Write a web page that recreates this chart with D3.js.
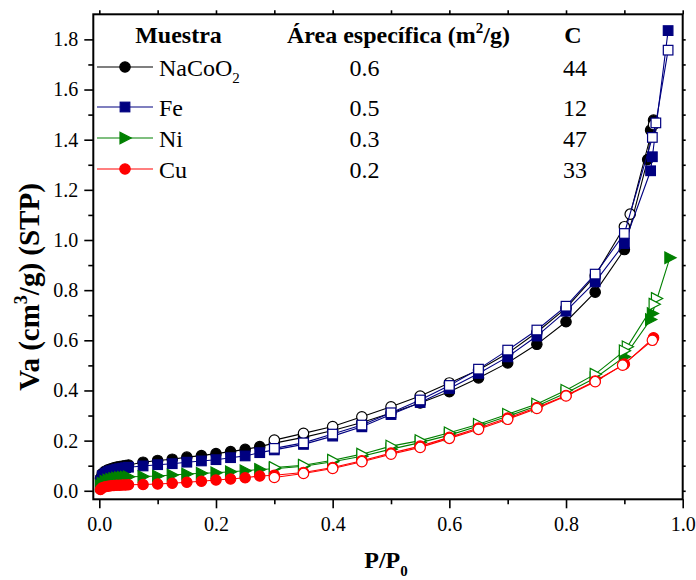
<!DOCTYPE html>
<html>
<head>
<meta charset="utf-8">
<script src="https://cdn.jsdelivr.net/npm/d3@7"></script>
<style>
  html, body { margin: 0; padding: 0; background: #fff; }
  svg { display: block; }
  text { font-family: "Liberation Serif", "Times New Roman", serif; fill: #000; }
</style>
</head>
<body>
<svg id="chart" width="696" height="580"></svg>
<script>
// ---------------- DATA ----------------
const sampleNames = ["NaCoO2", "Fe", "Ni", "Cu"];
const areaValues = ["0.6", "0.5", "0.3", "0.2"];
const cValues = ["44", "12", "47", "33"];
const xTickValues = [0, 0.2, 0.4, 0.6, 0.8, 1.0];
const yTickValues = [0, 0.2, 0.4, 0.6, 0.8, 1.0, 1.2, 1.4, 1.6, 1.8];

// adsorption pressures shared by the low/mid part of every branch
const adsPLow = [0.002, 0.005, 0.01, 0.015, 0.02, 0.025, 0.03, 0.035, 0.04, 0.045, 0.05,
                 0.075, 0.1, 0.125, 0.15, 0.175, 0.2, 0.225, 0.25, 0.275,
                 0.3, 0.35, 0.4, 0.45, 0.5, 0.55, 0.6, 0.65, 0.7, 0.75, 0.8, 0.85, 0.9];
const desPMid = [0.85, 0.8, 0.75, 0.7, 0.65, 0.6, 0.55, 0.5, 0.45, 0.4, 0.35, 0.3];

// NaCoO2
const nacoAdsP = adsPLow.concat([0.94, 0.945, 0.95]);
const nacoAdsV = [0.05, 0.068, 0.078, 0.084, 0.088, 0.092, 0.095, 0.097, 0.099, 0.101, 0.103,
                  0.114, 0.121, 0.126, 0.134, 0.14, 0.148, 0.156, 0.165, 0.176,
                  0.19, 0.213, 0.24, 0.272, 0.31, 0.35, 0.395, 0.45, 0.51, 0.584, 0.674, 0.792, 0.962,
                  1.321, 1.438, 1.478];
const nacoDesP = [0.95, 0.91, 0.9].concat(desPMid);
const nacoDesV = [1.46, 1.103, 1.053, 0.858, 0.728, 0.632, 0.548, 0.482, 0.43, 0.378, 0.335, 0.295, 0.256, 0.229, 0.202];

// Fe
const feAdsP = adsPLow.concat([0.945, 0.948, 0.975]);
const feAdsV = [0.04, 0.06, 0.07, 0.076, 0.08, 0.083, 0.086, 0.088, 0.09, 0.092, 0.094,
                0.099, 0.104, 0.108, 0.114, 0.119, 0.124, 0.132, 0.139, 0.152,
                0.163, 0.185, 0.218, 0.255, 0.304, 0.352, 0.408, 0.468, 0.534, 0.617, 0.716, 0.833, 0.986,
                1.276, 1.332, 1.835];
const feDesP = [0.975, 0.954, 0.948, 0.9].concat(desPMid);
const feDesV = [1.757, 1.467, 1.409, 1.026, 0.864, 0.736, 0.641, 0.561, 0.485, 0.42, 0.362, 0.311, 0.262, 0.226, 0.191, 0.169];

// Ni
const niAdsP = adsPLow.concat([0.945, 0.948, 0.978]);
const niAdsV = [0.02, 0.03, 0.038, 0.043, 0.046, 0.049, 0.051, 0.053, 0.054, 0.055, 0.056,
                0.057, 0.059, 0.063, 0.067, 0.07, 0.072, 0.076, 0.08, 0.085,
                0.088, 0.098, 0.116, 0.138, 0.166, 0.192, 0.222, 0.258, 0.297, 0.338, 0.39, 0.45, 0.534,
                0.683, 0.707, 0.929];
const niDesP = [0.955, 0.951, 0.905, 0.9].concat(desPMid);
const niDesV = [0.767, 0.744, 0.574, 0.558, 0.465, 0.401, 0.346, 0.305, 0.265, 0.231, 0.2, 0.178, 0.146, 0.122, 0.102, 0.093];

// Cu
const cuAdsP = adsPLow.concat([0.95]);
const cuAdsV = [0.005, 0.012, 0.016, 0.018, 0.02, 0.021, 0.022, 0.022, 0.023, 0.023, 0.024,
                0.025, 0.027, 0.03, 0.034, 0.038, 0.043, 0.047, 0.052, 0.059,
                0.062, 0.073, 0.093, 0.12, 0.15, 0.178, 0.213, 0.25, 0.29, 0.332, 0.38, 0.438, 0.505,
                0.61];
const cuDesP = [0.948, 0.897].concat(desPMid);
const cuDesV = [0.6, 0.501, 0.435, 0.378, 0.328, 0.285, 0.245, 0.209, 0.173, 0.146, 0.116, 0.089, 0.069, 0.053];

// ---------------- CHART ----------------
const series = [
  { name: "NaCoO2", color: "#000000", shape: "circle",   ads: [nacoAdsP, nacoAdsV], des: [nacoDesP, nacoDesV] },
  { name: "Fe",     color: "#000080", shape: "square",   ads: [feAdsP, feAdsV],     des: [feDesP, feDesV] },
  { name: "Ni",     color: "#008000", shape: "triangle", ads: [niAdsP, niAdsV],     des: [niDesP, niDesV] },
  { name: "Cu",     color: "#ff0000", shape: "circle",   ads: [cuAdsP, cuAdsV],     des: [cuDesP, cuDesV] }
];

const svg = d3.select("#chart");
const pL = 93.3, pR = 682.7, pT = 14.3, pB = 499.3;
const x = d3.scaleLinear().domain([-0.0103, 1.0]).range([pL, pR]);
const y = d3.scaleLinear().domain([-0.034, 1.9]).range([pB, pT]);

const tickFont = 20;

const xAxis = d3.axisBottom(x).tickValues(xTickValues).tickFormat(d3.format(".1f")).tickSizeInner(9).tickSizeOuter(0).tickPadding(9);
const xMinor = d3.axisBottom(x).tickValues(d3.range(0.1, 1.0, 0.2)).tickFormat("").tickSizeInner(5).tickSizeOuter(0);
const yAxis = d3.axisLeft(y).tickValues(yTickValues).tickFormat(d3.format(".1f")).tickSizeInner(9).tickSizeOuter(0).tickPadding(6);
const yMinor = d3.axisLeft(y).tickValues(d3.range(0.1, 1.9, 0.2)).tickFormat("").tickSizeInner(5).tickSizeOuter(0);
const xTop = d3.axisTop(x).tickValues(d3.range(0, 1.0001, 0.1)).tickFormat("").tickSizeInner(4).tickSizeOuter(0);
const yRight = d3.axisRight(y).tickValues(d3.range(0, 1.9, 0.1)).tickFormat("").tickSizeInner(3).tickSizeOuter(0);

function styleAxis(g) {
  g.select(".domain").remove();
  g.selectAll(".tick line").attr("stroke", "#000").attr("stroke-width", 1.6);
  g.selectAll(".tick text").attr("font-size", tickFont).attr("font-family", "'Liberation Serif', serif").attr("fill", "#000");
}
svg.append("g").attr("transform", `translate(0,${pB})`).call(xAxis).call(styleAxis);
svg.append("g").attr("transform", `translate(0,${pB})`).call(xMinor).call(styleAxis);
svg.append("g").attr("transform", `translate(${pL},0)`).call(yAxis).call(styleAxis);
svg.append("g").attr("transform", `translate(${pL},0)`).call(yMinor).call(styleAxis);
svg.append("g").attr("transform", `translate(0,${pT})`).call(xTop).call(styleAxis);
svg.append("g").attr("transform", `translate(${pR},0)`).call(yRight).call(styleAxis);

svg.append("rect").attr("x", pL).attr("y", pT).attr("width", pR - pL).attr("height", pB - pT)
  .attr("fill", "none").attr("stroke", "#000").attr("stroke-width", 2);

function marker(g, shape, cx, cy, color, filled) {
  const fill = filled ? color : "#fff";
  if (shape === "circle") {
    g.append("circle").attr("cx", cx).attr("cy", cy).attr("r", 5.2)
      .attr("fill", fill).attr("stroke", color).attr("stroke-width", 1.2);
  } else if (shape === "square") {
    g.append("rect").attr("x", cx - 4.8).attr("y", cy - 4.8).attr("width", 9.6).attr("height", 9.6)
      .attr("fill", fill).attr("stroke", color).attr("stroke-width", 1.2);
  } else {
    g.append("path").attr("d", `M${cx - 5},${cy - 5.8}L${cx + 6.2},${cy}L${cx - 5},${cy + 5.8}Z`)
      .attr("fill", fill).attr("stroke", color).attr("stroke-width", 1.2);
  }
}

const line = d3.line().x(d => x(d[0])).y(d => y(d[1]));
const plotG = svg.append("g");
series.forEach(s => {
  [["ads", true], ["des", false]].forEach(([key, filled]) => {
    const pts = s[key][0].map((p, i) => [p, s[key][1][i]]);
    plotG.append("path").attr("d", line(pts)).attr("fill", "none").attr("stroke", s.color).attr("stroke-width", 1.1);
    pts.forEach(d => marker(plotG, s.shape, x(d[0]), y(d[1]), s.color, filled));
  });
});

const leg = svg.append("g");
const headY = 43;
leg.append("text").attr("x", 178.5).attr("y", headY).attr("text-anchor", "middle")
  .attr("font-size", 24).attr("font-weight", "bold").text("Muestra");
const hArea = leg.append("text").attr("x", 398.5).attr("y", headY).attr("text-anchor", "middle")
  .attr("font-size", 24).attr("font-weight", "bold");
hArea.append("tspan").text("Área específica (m");
hArea.append("tspan").attr("dy", -10).attr("font-size", 15).text("2");
hArea.append("tspan").attr("dy", 10).text("/g)");
leg.append("text").attr("x", 573).attr("y", headY).attr("text-anchor", "middle")
  .attr("font-size", 24).attr("font-weight", "bold").text("C");

const rowBase = [76, 116, 147, 178];
series.forEach((s, i) => {
  const ly = rowBase[i] - 9;
  leg.append("line").attr("x1", 97).attr("x2", 153).attr("y1", ly).attr("y2", ly)
    .attr("stroke", s.color).attr("stroke-width", 1.1);
  marker(leg, s.shape, 125, ly, s.color, true);
  const t = leg.append("text").attr("x", 159).attr("y", rowBase[i]).attr("font-size", 24);
  if (sampleNames[i] === "NaCoO2") {
    t.append("tspan").text("NaCoO");
    t.append("tspan").attr("dy", 7).attr("font-size", 15).text("2");
  } else {
    t.text(sampleNames[i]);
  }
  leg.append("text").attr("x", 364.5).attr("y", rowBase[i]).attr("text-anchor", "middle").attr("font-size", 24).text(areaValues[i]);
  leg.append("text").attr("x", 575).attr("y", rowBase[i]).attr("text-anchor", "middle").attr("font-size", 24).text(cValues[i]);
});

const xt = svg.append("text").attr("x", 386).attr("y", 568).attr("text-anchor", "middle")
  .attr("font-size", 24).attr("font-weight", "bold");
xt.append("tspan").text("P/P");
xt.append("tspan").attr("dy", 8).attr("font-size", 15).text("0");

const yt = svg.append("text").attr("transform", "translate(39,287) rotate(-90)").attr("text-anchor", "middle")
  .attr("font-size", 29).attr("font-weight", "bold");
yt.append("tspan").text("Va (cm");
yt.append("tspan").attr("dy", -12).attr("font-size", 18).text("3");
yt.append("tspan").attr("dy", 12).text("/g) (STP)");
</script>
</body>
</html>
